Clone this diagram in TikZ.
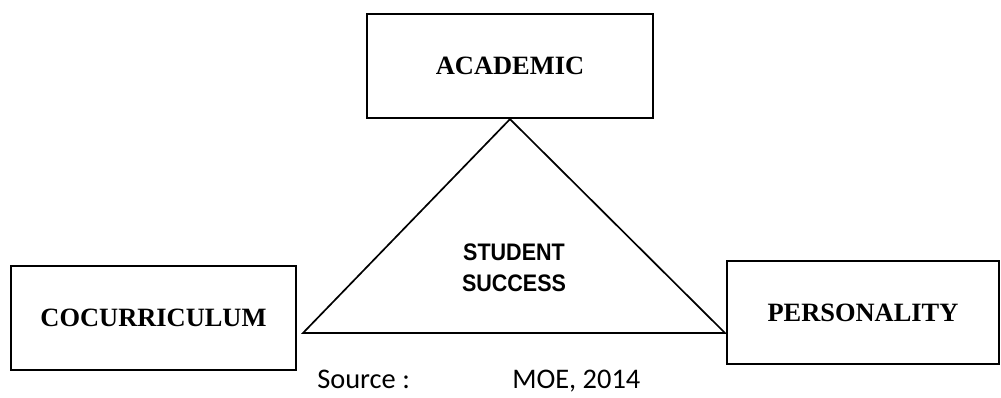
\documentclass[tikz,border=0pt]{standalone}
\usepackage{fontspec}
\setmainfont{Liberation Serif}
\newfontfamily\headfont{Liberation Sans}
\newfontfamily\sourcefont{Carlito}
\usepackage{tikz}
\usetikzlibrary{arrows}

\tikzset{
  area/.style={draw, line width=1.6pt, inner sep=0pt, font=\fontsize{18.8}{22}\selectfont\bfseries},
  core/.style={align=center, inner sep=0pt, font=\fontsize{17}{22.3}\selectfont\headfont\bfseries},
  cite/.style={anchor=base west, inner sep=0pt, font=\fontsize{20.2}{24}\selectfont\sourcefont}
}

\begin{document}
\begin{tikzpicture}
\useasboundingbox (0,0) rectangle (25.025,9.925);
\node [area, minimum width=7.15cm, minimum height=2.6cm] (academic) at (12.75,8.275) {ACADEMIC};
\node [area, minimum width=7.125cm, minimum height=2.6cm] (cocurriculum) at (3.8375,1.975) {COCURRICULUM};
\node [area, minimum width=6.8cm, minimum height=2.575cm] (personality) at (21.575,2.1125) {PERSONALITY};
\coordinate (baseleft) at (7.575,1.6);
\coordinate (baseright) at (18.125,1.6);
\draw [line width=1.2pt] (academic.south) -- (baseright) -- (baseleft) -- cycle;
\node [core, xscale=0.9] (success) at (12.85,3.225) {STUDENT\\SUCCESS};
\node [cite] (source) at (7.925,0.22) {Source :};
\node [cite] (moe) at (12.8,0.22) {MOE, 2014};
\end{tikzpicture}
\end{document}
